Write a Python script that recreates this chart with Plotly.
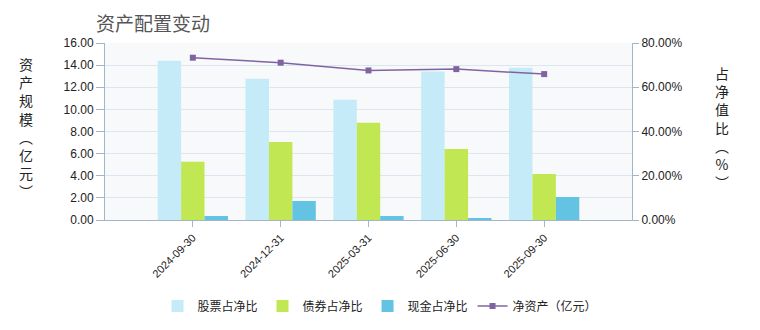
import plotly.graph_objects as go

dates = ["2024-09-30", "2024-12-31", "2025-03-31", "2025-06-30", "2025-09-30"]
stock_pct = [72.0, 63.8, 54.3, 67.1, 68.8]
bond_pct = [26.3, 35.3, 43.9, 32.1, 20.8]
cash_pct = [1.8, 8.6, 1.8, 0.9, 10.4]
net_assets = [14.67, 14.22, 13.52, 13.64, 13.19]

FONT = "Liberation Sans, Arial, Noto Sans CJK SC, sans-serif"
CJK = "Noto Sans CJK SC, sans-serif"
AXIS = "#a3b5c6"
PLOT_H = 330 - 43 - 110

fig = go.Figure()
fig.add_bar(x=dates, y=stock_pct, name="股票占净比", marker=dict(color="#c4ebf7", line=dict(width=0)), yaxis="y2")
fig.add_bar(x=dates, y=bond_pct, name="债券占净比", marker=dict(color="#c1e853", line=dict(width=0)), yaxis="y2")
fig.add_bar(x=dates, y=cash_pct, name="现金占净比", marker=dict(color="#63c3e2", line=dict(width=0)), yaxis="y2")
fig.add_scatter(x=dates, y=net_assets, name="净资产（亿元）", mode="lines+markers",
                line=dict(color="#8064a2", width=1.5),
                marker=dict(symbol="square", size=6, color="#8064a2"), yaxis="y")

fig.update_layout(
    width=760, height=330,
    margin=dict(l=105, r=128, t=43, b=110, autoexpand=False),
    paper_bgcolor="white", plot_bgcolor="#f8f9fb",
    barmode="group", bargap=0.2, bargroupgap=0,
    font=dict(family=FONT, size=12, color="#222"),
    showlegend=True,
    legend=dict(orientation="h", x=0.5, xref="container", xanchor="center",
                y=24 / 330, yref="container", yanchor="middle",
                font=dict(family=CJK, size=12, color="#222"), itemwidth=30,
                traceorder="normal"),
    xaxis=dict(type="category", range=[-1, 5], tickangle=-45, automargin=False,
               tickfont=dict(family=FONT, size=11, color="#222"),
               showline=True, linecolor=AXIS, linewidth=1,
               ticks="outside", ticklen=6, tickcolor=AXIS, showgrid=False),
    yaxis2=dict(side="right", range=[0, 80], dtick=20, tickformat=".2f", ticksuffix="%",
                showline=True, linecolor=AXIS, ticks="outside", ticklen=6, tickcolor=AXIS,
                automargin=False,
                showgrid=False, zeroline=False, tickfont=dict(family=FONT, size=12, color="#222")),
    yaxis=dict(side="left", overlaying="y2", range=[0, 16], dtick=2, tickformat=".2f",
               showline=True, linecolor=AXIS, ticks="outside", ticklen=8, tickcolor=AXIS,
               automargin=False,
               showgrid=True, gridcolor="#dde6ef", gridwidth=1, zeroline=False,
               tickfont=dict(family=FONT, size=12, color="#222")),
)

fig.add_annotation(text="资产配置变动", xref="paper", yref="paper", x=-0.02, y=1 + 21 / PLOT_H,
                   xanchor="left", yanchor="middle", showarrow=False,
                   font=dict(family=CJK, size=19, color="#555"))
left_title = "资产规模︵亿元︶"
right_title = "占净值比︵%︶"
fig.add_annotation(text="<br>".join(left_title), xref="paper", yref="paper", x=-0.15, y=0.52,
                   xanchor="center", yanchor="middle", showarrow=False,
                   font=dict(family=CJK, size=14, color="#222"))
fig.add_annotation(text="<br>".join(right_title), xref="paper", yref="paper", x=1.17, y=0.52,
                   xanchor="center", yanchor="middle", showarrow=False,
                   font=dict(family=CJK, size=14, color="#222"))

fig.write_html("out.html")
